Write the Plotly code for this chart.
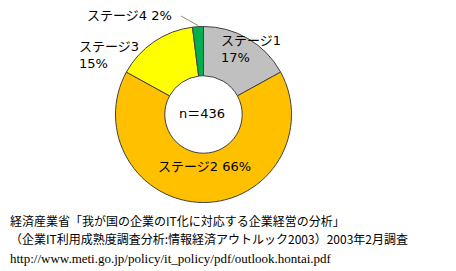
import plotly.graph_objects as go

stages = ["ステージ1", "ステージ2", "ステージ3", "ステージ4"]
shares = [17, 66, 15, 2]
colors = ["#C0C0C0", "#FFC000", "#FFFF00", "#00B050"]
n_total = 436
source_lines = [
    "経済産業省「我が国の企業のIT化に対応する企業経営の分析」",
    "（企業IT利用成熟度調査分析:情報経済アウトルック2003）2003年2月調査",
    "http://www.meti.go.jp/policy/it_policy/pdf/outlook.hontai.pdf",
]

W, H = 456, 271
cx, cy, R = 203.5, 114.5, 88

def px(x):
    return x / W

def py(y):
    return 1 - y / H

fig = go.Figure()
fig.add_trace(go.Pie(
    labels=stages,
    values=shares,
    marker=dict(colors=colors, line=dict(color="#404040", width=1)),
    hole=0.44,
    sort=False,
    direction="clockwise",
    rotation=0,
    textinfo="none",
    hoverinfo="label+percent",
    showlegend=False,
    domain=dict(x=[px(cx - R), px(cx + R)], y=[py(cy + R), py(cy - R)]),
))

lab_font = dict(family="DejaVu Sans, Noto Sans CJK JP", size=13, color="black")
anns = []
# Stage 1 (inside gray slice)
anns.append(dict(x=px(219), y=py(48.5), xanchor="left", yanchor="middle", align="left",
                 text=f"{stages[0]}<br>{shares[0]}%"))
# Stage 2
anns.append(dict(x=px(204), y=py(166), xanchor="center", yanchor="middle",
                 text=f"{stages[1]} {shares[1]}%"))
# Stage 3
anns.append(dict(x=px(77), y=py(55), xanchor="left", yanchor="middle", align="left",
                 text=f"{stages[2]}<br>{shares[2]}%"))
# Stage 4
anns.append(dict(x=px(85), y=py(16), xanchor="left", yanchor="middle",
                 text=f"{stages[3]} {shares[3]}%"))
# center
anns.append(dict(x=px(202), y=py(113), xanchor="center", yanchor="middle",
                 text=f"n＝{n_total}"))
for a in anns:
    a.update(xref="paper", yref="paper", showarrow=False, font=lab_font)

src_font_cjk = dict(family="Noto Sans CJK JP", size=12, color="black")
src_font_url = dict(family="Liberation Serif", size=13, color="black")
src_y = [221, 238, 258]
for i, line in enumerate(source_lines):
    anns.append(dict(x=px(8), y=py(src_y[i]), xref="paper", yref="paper",
                     xanchor="left", yanchor="middle", showarrow=False, text=line,
                     font=src_font_url if i == 2 else src_font_cjk))

fig.update_layout(
    width=W, height=H,
    margin=dict(l=0, r=0, t=0, b=0),
    paper_bgcolor="white", plot_bgcolor="white",
    annotations=anns,
    shapes=[dict(type="line", xref="paper", yref="paper",
                 x0=px(181), y0=py(16), x1=px(198), y1=py(25.5),
                 line=dict(color="#8C8C6C", width=1))],
)
fig.write_html("out.html")
